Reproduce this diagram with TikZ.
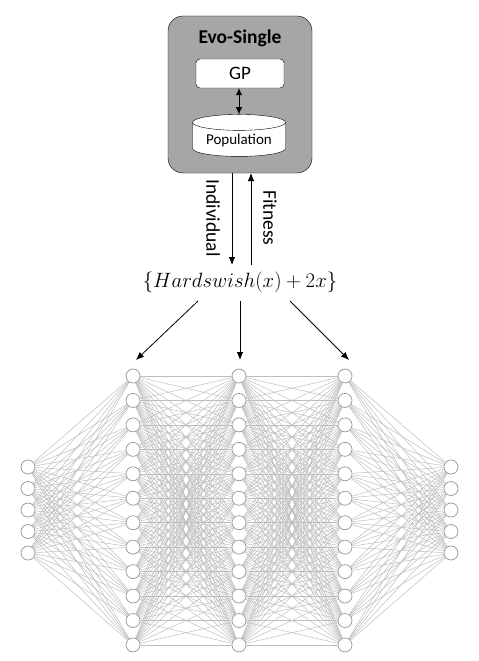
\documentclass[tikz,border=0pt]{standalone}
\usepackage{fontspec}
\setmainfont{Carlito}
\usetikzlibrary{shapes.geometric,arrows.meta}

\definecolor{evogray}{RGB}{166,166,166}
\definecolor{linkgray}{RGB}{190,190,190}
\definecolor{neurongray}{RGB}{150,150,150}

\newcommand*{\widegap}{24.45}
\newcommand*{\narrowgap}{21.5}
\newcommand*{\widetop}{376}
\newcommand*{\narrowtop}{467}

\begin{document}
\begin{tikzpicture}[x=1pt,y=-1pt,
	neuron/.style={circle,draw=neurongray,fill=white,line width=0.7pt,minimum size=14pt,inner sep=0pt},
	link/.style={draw=linkgray,line width=0.5pt},
	flow/.style={-{Latex[length=8pt,width=6.5pt]},line width=0.8pt},
	vlabel/.style={rotate=-90,font=\fontsize{19.5}{21}\selectfont}]

	\useasboundingbox (0,0) rectangle (479,661);

	% evolution box
	\node[draw,fill=evogray,rounded corners=15pt,minimum width=144pt,minimum height=157pt] (evo) at (240,94.5) {};
	\node[font=\fontsize{19.5}{21}\selectfont\bfseries] (title) at (240,38) {Evo-Single};
	\node[draw,fill=white,rounded corners=4pt,minimum width=88pt,minimum height=29pt,font=\fontsize{19}{21}\selectfont] (gp) at (240,73.5) {GP};
	\node[draw,fill=white,cylinder,shape border rotate=90,aspect=0.22,minimum width=93pt,minimum height=42pt,font=\fontsize{15}{17}\selectfont] (pop) at (239,141) {Population};
	\draw[{Latex[length=7pt,width=6.5pt]}-{Latex[length=7pt,width=6.5pt]},line width=0.8pt] (gp.south -| pop.north) -- (pop.north);

	% individual and fitness
	\node[font=\fontsize{19.5}{21}\selectfont] (hs) at (240,282) {$\{Hardswish(x)+2x\}$};
	\coordinate (indtop) at (232,173);
	\coordinate (indbot) at (232,265);
	\coordinate (fittop) at (251,173);
	\coordinate (fitbot) at (251,265);
	\draw[flow] (indtop) -- (indbot);
	\draw[flow] (fitbot) -- (fittop);
	\node[vlabel] (ind) at (213,218) {Individual};
	\node[vlabel] (fit) at (270,218) {Fitness};

	% network
	\foreach \i in {1,...,5} {
		\node[neuron] (a\i) at (28,{\narrowtop+(\i-1)*\narrowgap}) {};
		\node[neuron] (e\i) at (451,{\narrowtop+(\i-1)*\narrowgap}) {};
	}
	\foreach \i in {1,...,12} {
		\node[neuron] (b\i) at (133,{\widetop+(\i-1)*\widegap}) {};
		\node[neuron] (c\i) at (239,{\widetop+(\i-1)*\widegap}) {};
		\node[neuron] (d\i) at (345,{\widetop+(\i-1)*\widegap}) {};
	}
	\foreach \i in {1,...,5}
		\foreach \j in {1,...,12} {
			\draw[link] (a\i) -- (b\j);
			\draw[link] (d\j) -- (e\i);
		}
	\foreach \i in {1,...,12}
		\foreach \j in {1,...,12} {
			\draw[link] (b\i) -- (c\j);
			\draw[link] (c\i) -- (d\j);
		}

	% arrows into the network
	\coordinate (hsl) at (198,301);
	\coordinate (hsm) at (240,301);
	\coordinate (hsr) at (290,301);
	\coordinate (tol) at (136,360);
	\coordinate (tom) at (240,360);
	\coordinate (tor) at (349,360);
	\draw[flow] (hsl) -- (tol);
	\draw[flow] (hsm) -- (tom);
	\draw[flow] (hsr) -- (tor);

\end{tikzpicture}
\end{document}
